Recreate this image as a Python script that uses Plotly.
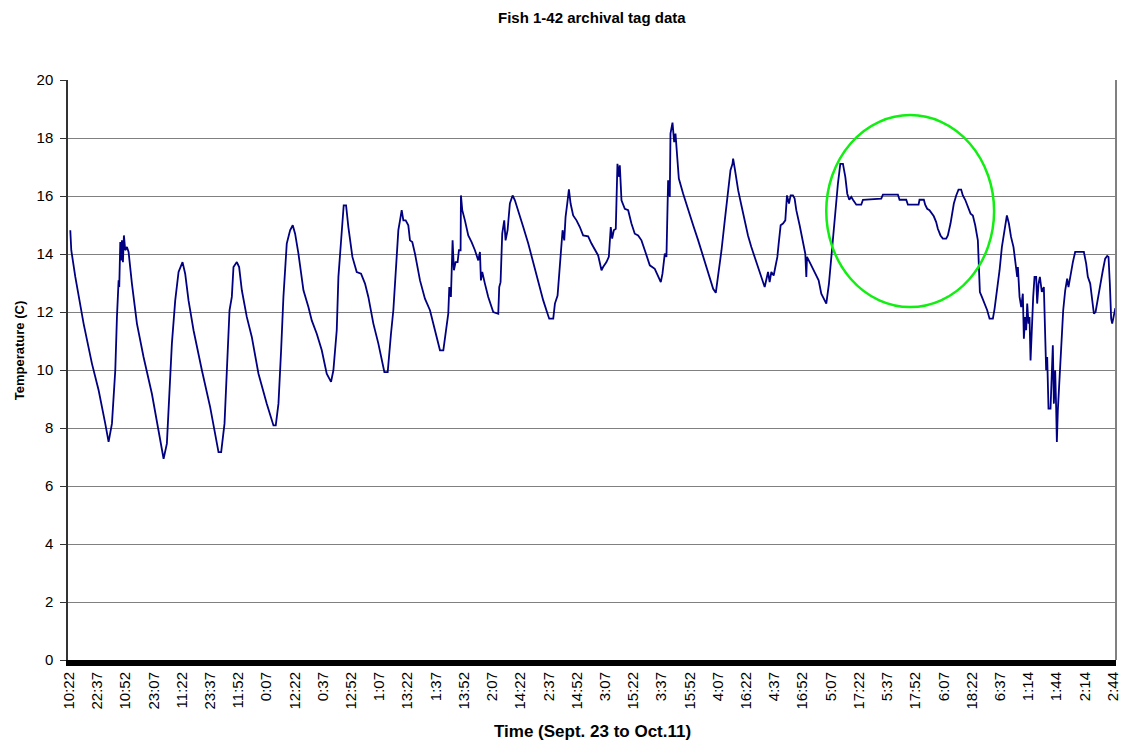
import plotly.graph_objects as go

# Archival tag temperature log: (sample number, temperature in C)
tag_log = [
    (2.3, 14.82), (4.0, 14.13), (11.0, 13.21), (19.7, 12.29), (25.4, 11.60),
    (39.9, 10.22), (51.5, 9.30), (63.0, 8.15), (68.8, 7.52), (74.6, 8.15),
    (80.4, 9.99), (83.3, 11.83), (86.2, 13.09), (87.3, 12.86), (89.1, 14.41),
    (90.8, 13.78), (92.0, 14.47), (93.7, 13.72), (95.4, 14.64), (97.7, 14.13),
    (100.6, 14.24), (103.5, 14.07), (109.3, 12.98), (118.0, 11.60), (129.5, 10.45),
    (144.0, 9.18), (155.6, 7.92), (164.3, 6.94), (170.0, 7.46), (174.1, 9.18),
    (178.7, 10.91), (184.5, 12.40), (190.3, 13.38), (197.2, 13.72), (201.8, 13.32),
    (207.6, 12.40), (216.3, 11.37), (230.8, 9.99), (245.2, 8.72), (259.7, 7.17),
    (264.3, 7.17), (270.1, 8.15), (274.1, 9.99), (278.8, 12.06),
    (282.8, 12.52), (285.7, 13.55), (291.5, 13.72), (295.5, 13.55), (300.2, 12.75),
    (308.8, 11.83), (317.5, 11.14), (329.1, 9.87), (343.5, 8.84), (355.1, 8.09),
    (359.1, 8.09), (363.8, 8.84), (368.4, 10.68), (372.4, 12.52), (378.2, 14.36),
    (384.0, 14.82), (388.6, 14.99), (392.7, 14.70), (398.5, 14.01), (407.2, 12.75),
    (415.8, 12.17), (421.6, 11.71), (430.3, 11.25), (439.0, 10.68), (447.6, 9.87),
    (455.1, 9.59), (459.2, 9.99), (465.0, 11.37), (467.9, 13.21), (472.5, 14.59),
    (477.1, 15.68), (481.2, 15.68), (485.2, 14.93), (492.2, 13.90), (499.7, 13.38),
    (507.2, 13.32), (514.1, 12.98), (519.9, 12.52), (528.6, 11.60), (537.3, 10.91),
    (547.7, 9.93), (553.5, 9.93), (556.4, 10.79), (559.2, 11.25), (563.3, 12.06),
    (569.1, 14.01), (572.0, 14.82), (574.9, 15.16),
    (577.8, 15.51), (580.7, 15.16), (584.7, 15.16), (589.3, 14.99), (592.2, 14.47),
    (596.2, 14.41), (600.9, 14.01), (609.6, 13.09), (618.2, 12.46), (626.9, 12.06),
    (635.6, 11.37), (644.3, 10.68), (650.1, 10.68), (655.8, 11.60), (658.7, 11.94),
    (660.5, 12.86), (663.3, 12.52), (666.2, 14.47), (668.5, 13.44), (671.4, 13.72),
    (674.9, 13.72), (677.2, 14.13), (680.1, 14.13), (680.7, 16.02), (683.0, 15.51),
    (687.6, 15.16), (693.4, 14.64), (699.2, 14.41), (705.0, 14.13), (710.8, 13.78),
    (713.7, 14.07), (715.4, 13.09), (717.7, 13.38), (722.3, 12.98), (728.1, 12.52),
    (736.8, 12.00), (745.5, 11.94), (747.2, 12.86), (749.5, 13.03), (752.4, 14.70),
    (755.9, 15.16), (758.2, 14.47), (761.7, 14.82), (765.7, 15.74), (770.4, 16.02),
    (774.4, 15.85), (780.2, 15.51), (788.9, 14.93), (797.6, 14.36), (806.3, 13.67),
    (815.0, 13.03), (823.6, 12.40), (831.1, 11.94), (834.0, 11.77), (841.0, 11.77),
    (843.9, 12.29), (848.5, 12.57), (852.5, 13.67), (855.4, 14.24), (857.2, 14.82),
    (860.1, 14.47), (862.4, 15.28), (865.3, 15.74), (868.2, 16.23), (871.1, 15.74),
    (872.7, 15.62), (875.6, 15.33), (881.4, 15.16), (887.2, 14.93), (892.9, 14.64),
    (901.6, 14.61), (907.4, 14.36), (913.2, 14.13), (919.0, 13.95), (924.8, 13.44),
    (927.6, 13.55), (933.4, 13.72), (937.5, 13.90), (940.9, 14.93), (943.3, 14.53),
    (946.2, 14.82), (949.6, 14.87), (952.5, 17.11), (955.4, 16.66), (956.6, 17.06),
    (959.5, 15.85), (965.3, 15.56), (971.1, 15.51), (976.8, 15.05), (982.6, 14.70),
    (988.4, 14.64), (994.2, 14.47), (1000.0, 14.13), (1008.7, 13.61), (1017.3, 13.49),
    (1023.1, 13.26), (1027.8, 13.03), (1030.7, 13.32), (1034.7, 14.01), (1037.6, 13.90),
    (1040.5, 16.54), (1043.4, 15.97), (1044.6, 18.15), (1048.1, 18.53), (1051.0, 17.86),
    (1053.3, 18.15), (1055.6, 17.57), (1059.1, 16.60), (1066.6, 16.08), (1075.3, 15.51),
    (1084.0, 14.99), (1092.7, 14.47), (1101.4, 13.90), (1110.0, 13.32), (1118.7, 12.80),
    (1123.3, 12.66), (1127.4, 13.21), (1133.2, 14.13), (1138.9, 15.16), (1144.7, 16.31),
    (1148.8, 16.89), (1152.3, 17.11), (1153.4, 17.29), (1156.3, 16.94), (1162.1, 16.20),
    (1167.7, 15.68), (1173.4, 15.16), (1179.2, 14.64), (1185.0, 14.24), (1190.8, 13.90),
    (1199.5, 13.44), (1208.2, 12.86), (1214.0, 13.38), (1216.8, 13.03), (1219.7, 13.38),
    (1223.8, 13.26), (1226.7, 13.55), (1230.2, 13.90), (1232.5, 14.36), (1235.9, 14.99),
    (1240.0, 15.05), (1244.0, 15.16), (1246.9, 16.02), (1250.4, 15.74), (1253.3, 16.02),
    (1257.3, 16.02), (1260.2, 15.91), (1263.1, 15.51), (1268.9, 14.99), (1274.7, 14.36),
    (1278.7, 14.01), (1280.5, 13.21), (1281.6, 13.90), (1286.3, 13.72), (1292.1, 13.49),
    (1297.8, 13.21), (1301.9, 13.09), (1306.5, 12.63), (1311.1, 12.46), (1315.2, 12.29),
    (1319.8, 12.98), (1323.9, 13.90), (1329.7, 15.16), (1335.4, 16.43), (1339.5, 17.11),
    (1344.1, 17.11), (1348.2, 16.66), (1351.6, 16.08), (1355.1, 15.87), (1358.6, 15.97),
    (1361.5, 15.87), (1367.3, 15.70), (1375.9, 15.70), (1378.8, 15.87), (1410.6, 15.91),
    (1413.5, 16.05), (1439.5, 16.05), (1442.4, 15.87), (1454.0, 15.87), (1456.9, 15.70),
    (1462.6, 15.70), (1475.4, 15.70), (1477.1, 15.87), (1484.6, 15.87), (1486.9, 15.70),
    (1490.4, 15.56), (1494.4, 15.51), (1498.5, 15.39), (1501.9, 15.30), (1506.0, 15.10),
    (1508.9, 14.87), (1513.5, 14.64), (1517.6, 14.53), (1523.4, 14.53), (1526.3, 14.64),
    (1530.9, 15.05), (1536.7, 15.74), (1540.8, 16.02), (1544.8, 16.22), (1549.4, 16.22),
    (1552.3, 16.02), (1556.4, 15.87), (1561.0, 15.62), (1565.7, 15.39), (1569.7, 15.33),
    (1573.8, 14.99), (1578.4, 14.47), (1580.2, 13.78), (1581.9, 12.69), (1585.4, 12.52),
    (1590.0, 12.29), (1594.6, 12.06), (1598.7, 11.77), (1604.5, 11.77), (1607.4, 12.11),
    (1612.0, 12.75), (1616.1, 13.44), (1620.1, 14.24), (1624.7, 14.82), (1628.8, 15.33),
    (1632.3, 15.05), (1636.0, 14.59), (1640.3, 14.24), (1643.8, 13.55), (1646.7, 13.21),
    (1647.9, 13.55), (1650.8, 12.52), (1653.7, 12.17), (1656.5, 12.63), (1658.3, 11.08),
    (1660.6, 11.83), (1662.3, 11.37), (1664.1, 12.29), (1666.4, 11.60), (1668.1, 11.83),
    (1669.9, 10.33), (1672.2, 11.83), (1674.5, 12.52), (1676.8, 13.21), (1679.7, 13.21),
    (1681.4, 12.29), (1683.8, 12.98), (1686.1, 13.21), (1689.5, 12.69), (1693.0, 12.86),
    (1695.3, 11.02), (1697.0, 9.99), (1698.8, 10.45), (1701.1, 8.67), (1704.6, 8.67),
    (1706.9, 9.76), (1708.6, 10.85), (1710.4, 8.84), (1712.7, 9.99), (1714.4, 8.67),
    (1715.6, 7.52), (1717.3, 8.61), (1720.2, 9.76), (1723.1, 11.14), (1726.6, 12.06),
    (1730.1, 12.75), (1733.5, 13.15), (1735.8, 12.86), (1739.3, 13.32), (1743.4, 13.72),
    (1747.4, 14.07), (1762.5, 14.07), (1766.5, 13.67), (1769.4, 13.21), (1773.5, 12.98),
    (1776.4, 12.46), (1779.9, 11.94), (1782.8, 12.00), (1786.8, 12.52), (1791.4, 12.98),
    (1795.5, 13.44), (1799.5, 13.84), (1803.0, 13.93), (1805.3, 13.90), (1807.6, 12.98),
    (1809.9, 11.77), (1811.7, 11.60), (1814.6, 11.94), (1816.9, 12.11), (1820.4, 12.11),
]

sample_idx = [s for s, _ in tag_log]
temp_c = [t for _, t in tag_log]

# Time-of-day labels, one every 49 samples
tick_labels = [
    "10:22", "22:37", "10:52", "23:07", "11:22", "23:37", "11:52", "0:07",
    "12:22", "0:37", "12:52", "1:07", "13:22", "1:37", "13:52", "2:07",
    "14:22", "2:37", "14:52", "3:07", "15:22", "3:37", "15:52", "4:07",
    "16:22", "4:37", "16:52", "5:07", "17:22", "5:37", "17:52", "6:07",
    "18:22", "6:37", "1:14", "1:44", "2:14", "2:44",
]
SAMPLES_PER_TICK = 49
tick_pos = [i * SAMPLES_PER_TICK for i in range(len(tick_labels))]

# Highlighted stretch of the record (sample range, temperature range)
highlight_x = [1315.1, 1606.6]
highlight_y = [12.17, 18.79]

FONT = "Liberation Sans, Arial, sans-serif"

fig = go.Figure()
fig.add_trace(go.Scatter(
    x=sample_idx, y=temp_c, mode="lines",
    line=dict(color="#000080", width=1.8),
    hoverinfo="skip", showlegend=False,
))

fig.update_layout(
    template="none",
    width=1121, height=743,
    margin=dict(l=68, r=5, t=80, b=83, pad=0),
    paper_bgcolor="white", plot_bgcolor="white",
    font=dict(family=FONT, size=15, color="black"),
    showlegend=False,
    xaxis=dict(
        range=[-1.7, 1818.3], automargin=False,
        tickmode="array", tickvals=tick_pos, ticktext=tick_labels,
        tickangle=-90, ticks="", showgrid=False, zeroline=False,
        showline=True, linecolor="black", linewidth=6,
        tickfont=dict(family=FONT, size=15, color="black"),
    ),
    yaxis=dict(
        range=[0, 20], automargin=False,
        tickmode="array", tickvals=list(range(0, 21, 2)),
        ticks="outside", ticklen=6, tickwidth=1.2, tickcolor="#333333",
        showgrid=True, gridcolor="#808080", gridwidth=1.2,
        zeroline=False, showline=True, linecolor="#333333", linewidth=1.5,
        tickfont=dict(family=FONT, size=15, color="black"),
        ticklabelstandoff=4,
    ),
    shapes=[
        dict(type="line", xref="paper", yref="paper", x0=1, x1=1, y0=0, y1=1,
             line=dict(color="#808080", width=2)),
        dict(type="circle", xref="x", yref="y",
             x0=highlight_x[0], x1=highlight_x[1],
             y0=highlight_y[0], y1=highlight_y[1],
             line=dict(color="#11EE11", width=2.5)),
    ],
    annotations=[
        dict(text="<b>Fish 1-42 archival tag data</b>", xref="paper", yref="paper",
             x=0.5, y=1.107, xanchor="center", yanchor="middle", showarrow=False,
             font=dict(family=FONT, size=15, color="black")),
        dict(text="<b>Time (Sept. 23 to Oct.11)</b>", xref="paper", yref="paper",
             x=0.5, y=-0.124, xanchor="center", yanchor="middle", showarrow=False,
             font=dict(family=FONT, size=17, color="black")),
        dict(text="<b>Temperature (C)</b>", xref="paper", yref="paper",
             x=-0.0468, y=0.534, xanchor="center", yanchor="middle", showarrow=False,
             textangle=-90, font=dict(family=FONT, size=13, color="black")),
    ],
)

fig.write_html("out.html")
